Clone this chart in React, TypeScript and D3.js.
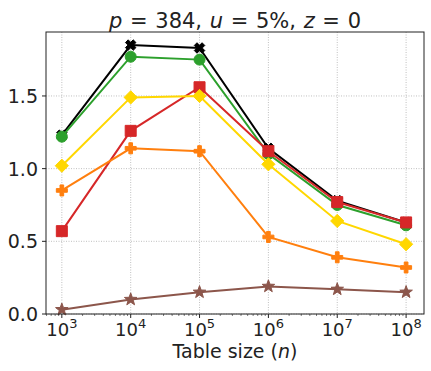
import React from "react";
import * as d3 from "d3";

const sizes = [1e3, 1e4, 1e5, 1e6, 1e7, 1e8];
const exponents = [3, 4, 5, 6, 7, 8];
const yTicks = [0, 0.5, 1.0, 1.5];

const blackX = [1.23, 1.85, 1.83, 1.14, 0.78, 0.63];
const greenCircle = [1.22, 1.77, 1.75, 1.1, 0.75, 0.61];
const redSquare = [0.57, 1.26, 1.56, 1.12, 0.77, 0.63];
const goldDiamond = [1.02, 1.49, 1.5, 1.03, 0.64, 0.48];
const orangePlus = [0.85, 1.14, 1.12, 0.53, 0.39, 0.32];
const brownStar = [0.03, 0.1, 0.15, 0.19, 0.17, 0.15];

const series = [
  { values: blackX, color: "#000000", marker: "X" },
  { values: greenCircle, color: "#2ca02c", marker: "o" },
  { values: redSquare, color: "#d62728", marker: "s" },
  { values: goldDiamond, color: "#ffd700", marker: "D" },
  { values: orangePlus, color: "#ff7f0e", marker: "P" },
  { values: brownStar, color: "#8c564b", marker: "*" },
];

const W = 431;
const H = 371;
const m = { left: 46, right: 424, top: 32, bottom: 314 };
const font = "DejaVu Sans, sans-serif";

function markerPath(kind: string, r: number): string {
  switch (kind) {
    case "o":
      return d3.symbol(d3.symbolCircle, Math.PI * r * r)() || "";
    case "s":
      return `M${-r},${-r}H${r}V${r}H${-r}Z`;
    case "D": {
      const d = r * 1.2;
      return `M0,${-d}L${d},0L0,${d}L${-d},0Z`;
    }
    case "P": {
      const a = r / 3;
      return `M${-a},${-r}H${a}V${-a}H${r}V${a}H${a}V${r}H${-a}V${a}H${-r}V${-a}H${-a}Z`;
    }
    case "X": {
      const pts: [number, number][] = [];
      const a = r * 0.35;
      const base: [number, number][] = [
        [-a, -r], [a, -r], [a, -a], [r, -a], [r, a], [a, a], [a, r], [-a, r], [-a, a], [-r, a], [-r, -a], [-a, -a],
      ];
      const c = Math.cos(Math.PI / 4), s = Math.sin(Math.PI / 4);
      base.forEach(([x, y]) => pts.push([x * c - y * s, x * s + y * c]));
      return "M" + pts.map((p) => p.join(",")).join("L") + "Z";
    }
    case "*": {
      const pts: string[] = [];
      for (let i = 0; i < 10; i++) {
        const ang = (i * Math.PI) / 5 - Math.PI / 2;
        const rr = i % 2 === 0 ? r * 1.1 : r * 0.45;
        pts.push(`${rr * Math.cos(ang)},${rr * Math.sin(ang)}`);
      }
      return "M" + pts.join("L") + "Z";
    }
  }
  return "";
}

export default function App() {
  const x = d3.scaleLog().domain([Math.pow(10, 2.77), Math.pow(10, 8.26)]).range([m.left, m.right]);
  const y = d3.scaleLinear().domain([0, 1.94]).range([m.bottom, m.top]);

  const minor: number[] = [];
  for (let e = 2; e <= 8; e++) {
    for (let k = 2; k <= 9; k++) {
      const v = k * Math.pow(10, e);
      if (v > x.domain()[0] && v < x.domain()[1]) minor.push(v);
    }
  }

  const line = d3
    .line<number>()
    .x((_, i) => x(sizes[i]))
    .y((d) => y(d));

  return (
    <svg width={W} height={H} style={{ position: "absolute", left: 0, top: 0 }} fontFamily={font}>
      <rect width={W} height={H} fill="#fff" />
      {sizes.map((s, i) => (
        <line key={"gx" + i} x1={x(s)} x2={x(s)} y1={m.top} y2={m.bottom} stroke="#b0b0b0" strokeWidth={0.8} strokeDasharray="1,1.5" />
      ))}
      {yTicks.map((t, i) => (
        <line key={"gy" + i} x1={m.left} x2={m.right} y1={y(t)} y2={y(t)} stroke="#b0b0b0" strokeWidth={0.8} strokeDasharray="1,1.5" />
      ))}
      {series.map((s, si) => (
        <g key={"s" + si}>
          <path d={line(s.values) || ""} fill="none" stroke={s.color} strokeWidth={2} />
          {s.values.map((v, i) => (
            <path
              key={i}
              d={markerPath(s.marker, s.marker === "*" ? 6 : 5.5)}
              transform={`translate(${x(sizes[i])},${y(v)})`}
              fill={s.color}
              stroke={s.color}
              strokeWidth={1}
            />
          ))}
        </g>
      ))}
      <rect x={m.left} y={m.top} width={m.right - m.left} height={m.bottom - m.top} fill="none" stroke="#222" strokeWidth={1} />
      {sizes.map((s, i) => (
        <g key={"tx" + i}>
          <line x1={x(s)} x2={x(s)} y1={m.bottom} y2={m.bottom + 4} stroke="#222" />
          <text x={x(s)} y={336} textAnchor="middle" fontSize={18} fill="#222">
            10
            <tspan fontSize={13} dy={-8}>
              {exponents[i]}
            </tspan>
          </text>
        </g>
      ))}
      {minor.map((v, i) => (
        <line key={"mx" + i} x1={x(v)} x2={x(v)} y1={m.bottom} y2={m.bottom + 2} stroke="#222" strokeWidth={0.6} />
      ))}
      {yTicks.map((t, i) => (
        <g key={"ty" + i}>
          <line x1={m.left - 4} x2={m.left} y1={y(t)} y2={y(t)} stroke="#222" />
          <text x={m.left - 8} y={y(t) + 7} textAnchor="end" fontSize={19} fill="#222">
            {t.toFixed(1)}
          </text>
        </g>
      ))}
      <text x={(m.left + m.right) / 2} y={28} textAnchor="middle" fontSize={21} fill="#222" wordSpacing={1}>
        <tspan fontStyle="italic">p</tspan> = 384, <tspan fontStyle="italic">u</tspan> = 5%, <tspan fontStyle="italic">z</tspan> = 0
      </text>
      <text x={(m.left + m.right) / 2} y={358} textAnchor="middle" fontSize={19} fill="#222">
        Table size (<tspan fontStyle="italic">n</tspan>)
      </text>
    </svg>
  );
}
